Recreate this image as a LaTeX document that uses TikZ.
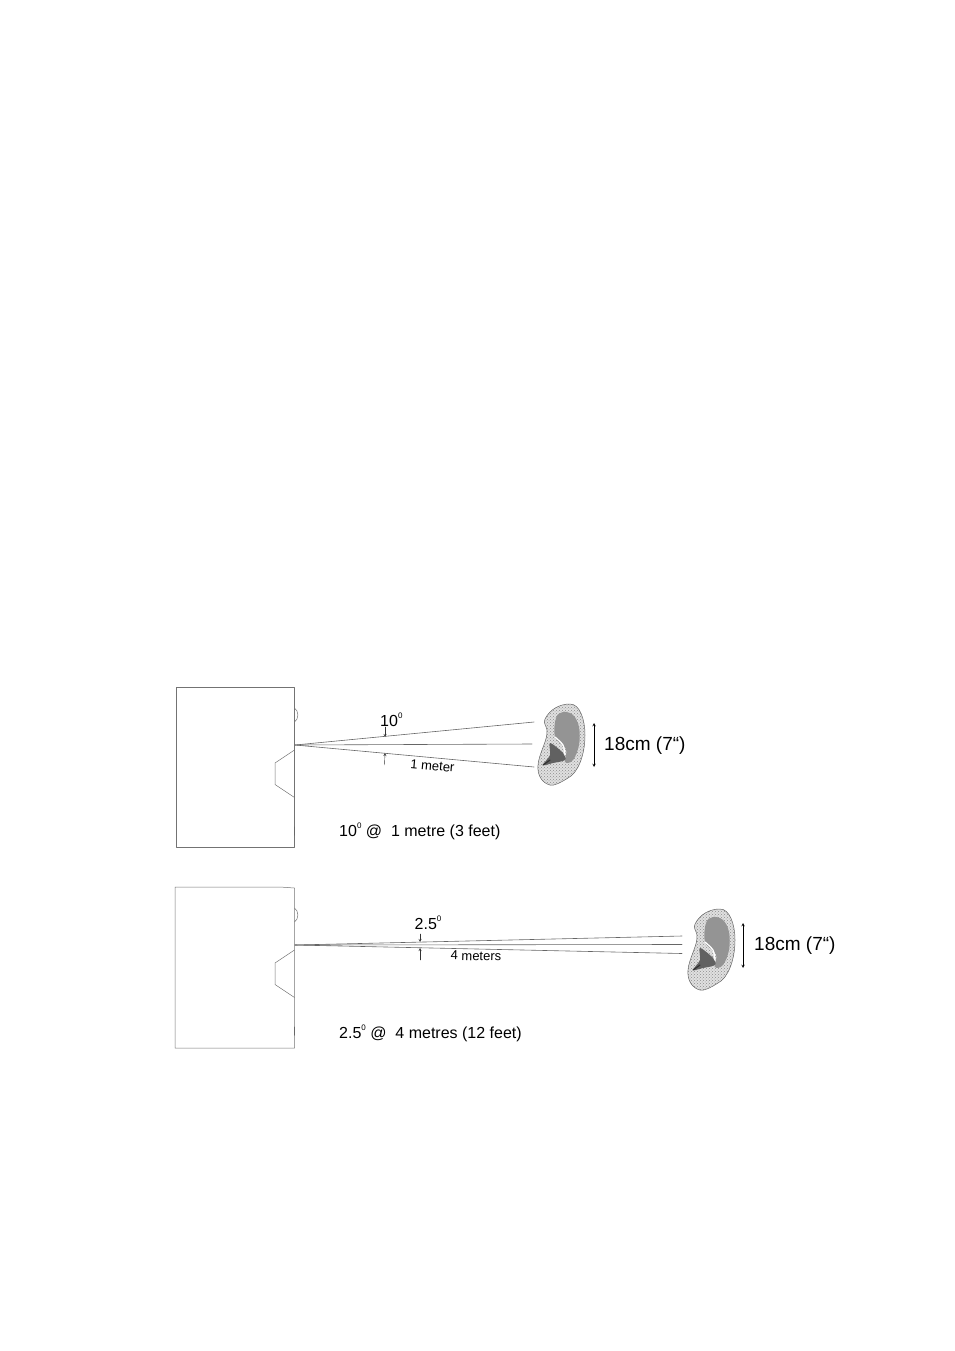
\documentclass[tikz,border=0pt]{standalone}
\usepackage{fontspec}
\setmainfont{Liberation Sans}
\usetikzlibrary{patterns}
\newcommand{\degsign}{\raisebox{8pt}{\fontsize{8}{9}\selectfont 0}}
\def\earoutline{(-15,-26) .. controls (-10,-36) and (0,-41) .. (10,-41) .. controls (20,-41) and (25,-25) .. (25,-10) .. controls (25,10) and (18,28) .. (8,33) .. controls (0,38) and (-6,41) .. (-10,40) .. controls (-18,38) and (-23,30) .. (-22,20) .. controls (-21,8) and (-12,-5) .. (-13,-15) .. controls (-14,-20) and (-17,-22) .. cycle}
\tikzset{
	wire/.style={draw=black!55, line width=0.5pt},
	ray/.style={draw=black!60, line width=0.6pt},
	tick/.style={draw=black!80, line width=0.4pt, ->},
	earpic/.pic={
		\fill[black!12] \earoutline;
		\draw[black!60, line width=0.5pt, pattern=crosshatch dots, pattern color=black!45] \earoutline;
		\fill[black!42] plot[smooth cycle, tension=0.6] coordinates {(-5,-8) (-4,-27) (3,-33) (13,-30) (19,-18) (19,0) (13,15) (5,17) (6,4)};
		\fill[black!62] plot[smooth cycle, tension=0.5] coordinates {(-17,20) (-10,10) (-10,-2) (3,8) (5,15) (-7,18)};
		\draw[white, line width=1.2pt] plot[smooth] coordinates {(-5,-8) (3,0) (5,10)};
		\draw[black!80, line width=1.2pt] (-17,20) -- (-10,15);
	}
}
\begin{document}
\begin{tikzpicture}[x=1pt, y=-1pt, line join=round, line cap=round, >=stealth]
	\useasboundingbox (0,0) rectangle (954,1351);
	% cabinets
	\draw[wire] (176.5,687) rectangle (294.5,847.5);
	\draw[wire] (175,1048) -- (175,887) -- (280,887) -- (294.5,888) -- (294.5,1048) -- cycle;
	\foreach \yy in {0,200}{
		\draw[wire] (294.5,708+\yy) .. controls (299,711+\yy) and (299,719+\yy) .. (294.5,722+\yy);
		\draw[wire] (294.5,750+\yy)--(275,763+\yy)--(275,784.5+\yy)--(294.5,797.5+\yy);
		\draw[black!60, line width=1pt] (294.5,827+\yy)--(294.5,835+\yy);
	}
	% ears
	\pic at (560,745) {earpic};
	\pic at (710,950) {earpic};
	% near case
	\coordinate (src1) at (295,745);
	\coordinate (top1) at (534,722);
	\coordinate (mid1) at (532,744);
	\coordinate (bot1) at (534,767);
	\draw[ray] (src1)--(top1);
	\draw[ray] (src1)--(mid1);
	\draw[ray] (src1)--(bot1);
	\coordinate (tickA) at (385,727);
	\coordinate (tickAend) at (385,737);
	\coordinate (tickB) at (384.5,765);
	\coordinate (tickBend) at (385,753);
	\draw[tick] (tickA)--(tickAend);
	\draw[tick] (tickB)--(tickBend);
	\coordinate (dimA) at (594,723);
	\coordinate (dimB) at (594,767);
	\draw[<->, black, line width=0.5pt] (dimA)--(dimB);
	\node[anchor=base west, inner sep=0pt, font=\fontsize{16}{18}\selectfont] (angleA) at (380,726) {10\degsign};
	\node[inner sep=0pt, rotate=-5, font=\fontsize{13}{15}\selectfont] (distA) at (432.5,766) {1 meter};
	\node[anchor=base west, inner sep=0pt, font=\fontsize{19}{22}\selectfont] (sizeA) at (604,750) {18cm (7“)};
	\node[anchor=base west, inner sep=0pt, font=\fontsize{16}{18}\selectfont] (noteA) at (339,836.5) {10\degsign\ @\ \ 1 metre (3 feet)};
	% far case
	\coordinate (src2) at (295,945);
	\coordinate (top2) at (682,936);
	\coordinate (mid2) at (682,944.5);
	\coordinate (bot2) at (682,953.5);
	\draw[ray] (src2)--(top2);
	\draw[ray] (src2)--(mid2);
	\draw[ray] (src2)--(bot2);
	\coordinate (tickC) at (420,934);
	\coordinate (tickCend) at (420,942);
	\coordinate (tickD) at (420,960);
	\coordinate (tickDend) at (420,948);
	\draw[tick] (tickC)--(tickCend);
	\draw[tick] (tickD)--(tickDend);
	\coordinate (dimC) at (743,923);
	\coordinate (dimD) at (743,968);
	\draw[<->, black, line width=0.5pt] (dimC)--(dimD);
	\node[anchor=base west, inner sep=0pt, font=\fontsize{16}{18}\selectfont] (angleB) at (414.5,929.5) {2.5\degsign};
	\node[inner sep=0pt, rotate=-1.5, font=\fontsize{13}{15}\selectfont] (distB) at (476,956) {4 meters};
	\node[anchor=base west, inner sep=0pt, font=\fontsize{19}{22}\selectfont] (sizeB) at (754,950) {18cm (7“)};
	\node[anchor=base west, inner sep=0pt, font=\fontsize{16}{18}\selectfont] (noteB) at (339,1038) {2.5\degsign\ @\ \ 4 metres (12 feet)};
\end{tikzpicture}
\end{document}
